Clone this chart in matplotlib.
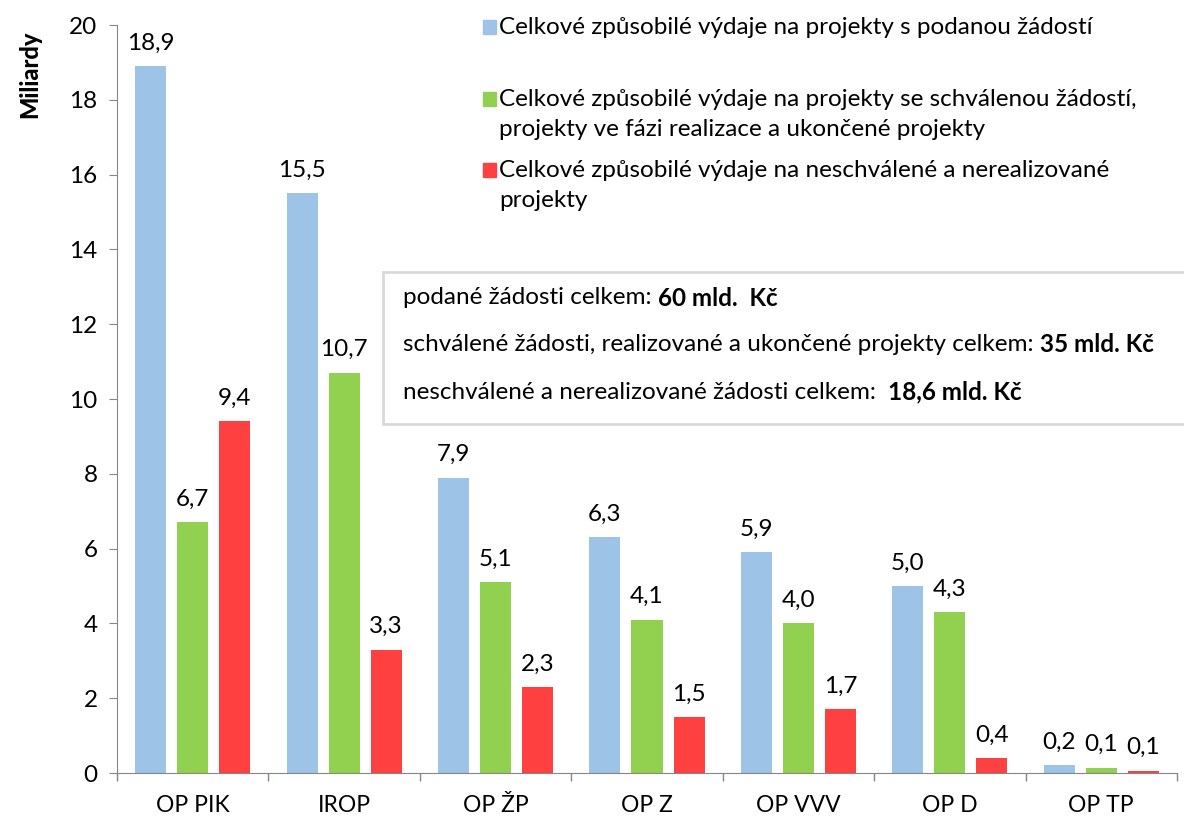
import numpy as np
import matplotlib.pyplot as plt
from matplotlib.patches import Rectangle

# data
categories = ["OP PIK", "IROP", "OP ŽP", "OP Z", "OP VVV", "OP D", "OP TP"]
podane = [18.9, 15.5, 7.9, 6.3, 5.9, 5.0, 0.21]
schvalene = [6.7, 10.7, 5.1, 4.1, 4.0, 4.3, 0.14]
neschvalene = [9.4, 3.3, 2.3, 1.5, 1.7, 0.4, 0.06]
series_labels = [
    "Celkové způsobilé výdaje na projekty s podanou žádostí",
    "Celkové způsobilé výdaje na projekty se schválenou žádostí,\nprojekty ve fázi realizace a ukončené projekty",
    "Celkové způsobilé výdaje na neschválené a nerealizované\nprojekty",
]
colors = ["#9DC3E6", "#92D050", "#FF4040"]
box_lines = [
    ("podané žádosti celkem: ", "60 mld.  Kč"),
    ("schválené žádosti, realizované a ukončené projekty celkem: ", "35 mld. Kč"),
    ("neschválené a nerealizované žádosti celkem:  ", "18,6 mld. Kč"),
]

plt.rcParams['font.family'] = ['Lato', 'DejaVu Sans']
FS = 17.5

fig = plt.figure(figsize=(11.84, 8.19), dpi=100)
ax = fig.add_axes([117 / 1184, 1 - 773 / 819, 1060 / 1184, 748 / 819])

x = np.arange(len(categories))
width = 0.205
pitch = 0.278
for k, (vals, col) in enumerate(zip([podane, schvalene, neschvalene], colors)):
    xs = x + (k - 1) * pitch
    ax.bar(xs, vals, width, color=col, zorder=2)
    for xi, v in zip(xs, vals):
        ax.annotate(f"{v:.1f}".replace(".", ","), (xi, v), xytext=(0, 9),
                    textcoords="offset points", ha="center", va="bottom", fontsize=FS)

ax.set_xlim(-0.5, len(categories) - 0.5)
ax.set_ylim(0, 20)
ax.set_yticks(np.arange(0, 21, 2))
ax.set_xticks(x)
ax.set_xticklabels(categories, fontsize=16.5)
ax.set_xticks(np.arange(-0.5, len(categories)), minor=True)
ax.tick_params(axis='x', which='major', length=0, pad=16)
ax.tick_params(axis='x', which='minor', length=6, color="#868686", width=1)
ax.tick_params(axis='y', labelsize=FS, length=6, color="#868686", pad=8)
for s in ["top", "right"]:
    ax.spines[s].set_visible(False)
for s in ["left", "bottom"]:
    ax.spines[s].set_color("#868686")

fig.text(30 / 1184, 1 - 74 / 819, "Miliardy", rotation=90, fontsize=17,
         fontweight="black", ha="center", va="center")

# legend (top line of each entry aligned with its marker)
leg_y = [27, 99, 170]
for lab, col, yy in zip(series_labels, colors, leg_y):
    yf = 1 - yy / 819
    fig.patches.append(Rectangle((483 / 1184, yf - 7 / 819), 13 / 1184, 14 / 819,
                                 transform=fig.transFigure, color=col, figure=fig))
    fig.text(499 / 1184, yf + 10 / 819, lab, fontsize=FS, va="top", ha="left",
             linespacing=1.55)

# summary box
fig.patches.append(Rectangle((383 / 1184, 1 - 424 / 819), 820 / 1184, 152 / 819,
                             transform=fig.transFigure, facecolor="white",
                             edgecolor="#D9D9D9", linewidth=2, figure=fig, zorder=3))
renderer = fig.canvas.get_renderer()
for (normal, bold), yy in zip(box_lines, [298, 344, 392]):
    t = fig.text(403 / 1184, 1 - yy / 819, normal, fontsize=FS, va="center", ha="left", zorder=4)
    bb = t.get_window_extent(renderer)
    fig.text(bb.x1 / fig.bbox.width, 1 - yy / 819, bold, fontsize=FS, fontweight="bold",
             va="center", ha="left", zorder=4)

plt.savefig("out.png", dpi=100)
